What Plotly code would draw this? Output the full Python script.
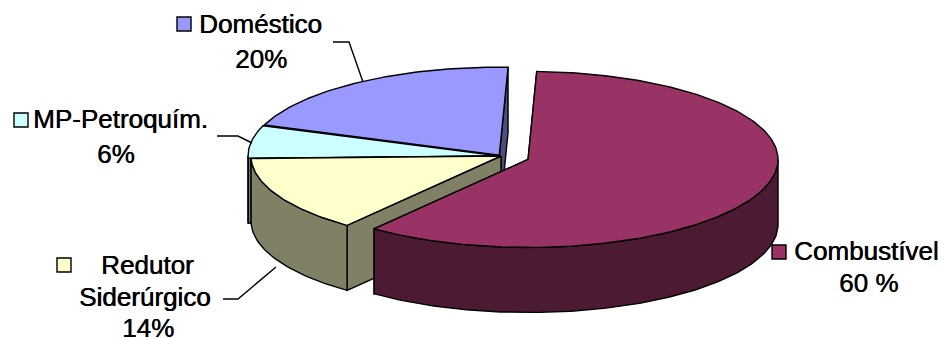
import numpy as np
import plotly.graph_objects as go

# ---- data ----
categories = ["Combustível", "Redutor Siderúrgico", "MP-Petroquím.", "Doméstico"]
values = [60, 14, 6, 20]
pct_labels = ["60 %", "14%", "6%", "20%"]
name_lines = [["Combustível"], ["Redutor", "Siderúrgico"], ["MP-Petroquím."], ["Doméstico"]]

# ---- styles ----
top_colors = ["#993366", "#FFFFCC", "#CCFFFF", "#9999FF"]
side_colors = ["#4D1A33", "#808066", "#668080", "#4D4D80"]
explode = [0.115, 0.0, 0.012, 0.012]
draw_order = [3, 2, 1, 0]

CX, CY, RX, RY, H = 501, 156, 250, 88, 65
START = 2.0
FONT = "Liberation Sans, Arial, sans-serif"


def pt(theta, ox, oy, dz=0.0):
    t = np.radians(theta)
    return CX + ox + RX * np.sin(t), CY + oy - RY * np.cos(t) + dz


def arc(a, b, ox, oy, dz=0.0):
    n = max(int(abs(b - a)) + 2, 3)
    th = np.linspace(a, b, n)
    xs, ys = pt(th, ox, oy, dz)
    return list(xs), list(ys)


total = float(sum(values))
bounds = [START]
for v in values:
    bounds.append(bounds[-1] + 360.0 * v / total)

fig = go.Figure()


def poly(xs, ys, fill):
    fig.add_trace(go.Scatter(
        x=xs + [xs[0]], y=ys + [ys[0]], mode="lines", fill="toself",
        fillcolor=fill, line=dict(color="black", width=1.4),
        hoverinfo="skip", showlegend=False))


for i in draw_order:
    a, b = bounds[i], bounds[i + 1]
    mid = np.radians((a + b) / 2)
    ox = explode[i] * RX * np.sin(mid)
    oy = -explode[i] * RY * np.cos(mid)
    ax, ay = CX + ox, CY + oy

    walls = []
    for th, is_start in ((a, True), (b, False)):
        s = np.sin(np.radians(th))
        visible = (s < 0) if is_start else (s > 0)
        ex, ey = pt(th, ox, oy)
        walls.append((visible, [ax, ex, ex, ax], [ay, ey, ey + H, ay + H]))
    for vis, xs, ys in sorted(walls, key=lambda w: w[0]):
        poly(xs, ys, side_colors[i])

    # front outer wall
    for k in (-360, 0, 360):
        lo, hi = max(a, 90 + k), min(b, 270 + k)
        if hi > lo:
            tx, ty = arc(lo, hi, ox, oy)
            bx, by = arc(hi, lo, ox, oy, H)
            poly(tx + bx, ty + by, side_colors[i])

    # top face
    tx, ty = arc(a, b, ox, oy)
    poly([ax] + tx, [ay] + ty, top_colors[i])

# ---- labels (one annotation per text line) ----
line_pos = [
    [(866, 251), (868, 283)],
    [(147, 265), (145, 297), (148, 328)],
    [(120, 119), (116, 154)],
    [(260, 24), (261, 59)],
]
key_pos = [(772, 245), (57, 258), (14, 113), (177, 17)]
for i in range(len(values)):
    texts = name_lines[i] + [pct_labels[i]]
    for t, (x, y) in zip(texts, line_pos[i]):
        fig.add_annotation(
            x=x, y=y, xref="x", yref="y", text=t, showarrow=False,
            xanchor="center", yanchor="middle", align="center",
            font=dict(family=FONT, size=26, color="black",
                      shadow="0.6px 0px 0px black"))
    kx, ky = key_pos[i]
    fig.add_shape(type="rect", x0=kx, y0=ky, x1=kx + 14, y1=ky + 14,
                  xref="x", yref="y", fillcolor=top_colors[i],
                  line=dict(color="black", width=1.4))

leaders = ["M 333 42 L 349 42 L 363 82",
           "M 217 136 L 238 136 L 252 143",
           "M 223 299 L 238 299 L 276 267"]
for p in leaders:
    fig.add_shape(type="path", path=p, xref="x", yref="y",
                  line=dict(color="black", width=1.4))

fig.update_layout(
    width=944, height=338, margin=dict(l=0, r=0, t=0, b=0),
    paper_bgcolor="white", plot_bgcolor="white",
    xaxis=dict(range=[0, 944], visible=False, fixedrange=True),
    yaxis=dict(range=[338, 0], visible=False, fixedrange=True),
    showlegend=False)

fig.write_html("out.html")
